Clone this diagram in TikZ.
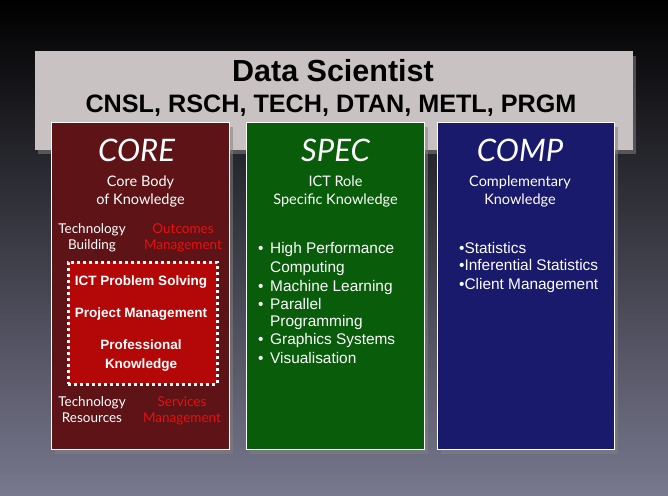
\documentclass[tikz,border=0pt]{standalone}
\usepackage{fontspec}
\setmainfont{Liberation Sans}
\newfontfamily\gill{Lato}
\usetikzlibrary{positioning, shadows}
\definecolor{bg bottom}{RGB}{120,120,142}
\definecolor{bg middle}{RGB}{40,40,56}
\definecolor{header grey}{RGB}{200,194,194}
\definecolor{core red}{RGB}{94,20,22}
\definecolor{spec green}{RGB}{8,92,10}
\definecolor{comp blue}{RGB}{26,26,108}
\definecolor{inner red}{RGB}{180,8,8}
\definecolor{mgmt red}{RGB}{232,16,16}
\tikzset{
  panel/.style={draw=white, line width=1pt, anchor=north west, inner sep=0pt,
    drop shadow={opacity=0.55, shadow xshift=3pt, shadow yshift=-4pt}},
  big title/.style={anchor=base, text=white, font=\gill\itshape\fontsize{31}{32}\selectfont},
  sub title/.style={anchor=base, text=white, font=\gill\fontsize{14.5}{18}\selectfont},
  corner text/.style={anchor=base, font=\gill\fontsize{13.5}{15.5}\selectfont},
  inner text/.style={anchor=base, text=white, font=\bfseries\fontsize{13.5}{19}\selectfont},
  item text/.style={anchor=base west, text=white, inner sep=0pt, font=\fontsize{15.4}{18}\selectfont},
}
\begin{document}
\begin{tikzpicture}[x=1pt, y=-1pt]
  \useasboundingbox (0,0) rectangle (668,495);
  % background
  \shade[top color=black, middle color=bg middle, bottom color=bg bottom] (0,0) rectangle (668,495);
  % header
  \path node[panel, draw=none, fill=header grey, minimum width=598pt, minimum height=98pt] (header) at (34,51) {};
  \path (333,81) node[anchor=base, font=\bfseries\fontsize{30.5}{31}\selectfont] (role) {Data Scientist};
  \path (331,112) node[anchor=base, font=\bfseries\fontsize{25.2}{26}\selectfont] (codes) {CNSL, RSCH, TECH, DTAN, METL, PRGM};
  % three columns
  \path node[panel, fill=core red, minimum width=178pt, minimum height=327pt] (core) at (51,122) {};
  \path node[panel, fill=spec green, minimum width=178pt, minimum height=327pt] (spec) at (246,122) {};
  \path node[panel, fill=comp blue, minimum width=177pt, minimum height=327pt] (comp) at (437,122) {};
  % CORE
  \path (core.north) ++(-4,39) node[big title] (core title) {CORE};
  \path (core.north) ++(0,64) node[sub title] (core sub 1) {Core Body};
  \path (core.north) ++(0,82) node[sub title] (core sub 2) {of Knowledge};
  \path (92,233) node[corner text, text=white] (tb 1) {Technology};
  \path (92,249) node[corner text, text=white] (tb 2) {Building};
  \path (183,233) node[corner text, text=mgmt red] (om 1) {Outcomes};
  \path (183,249) node[corner text, text=mgmt red] (om 2) {Management};
  \path node[anchor=north west, fill=inner red, draw=white, line width=2.6pt, dash pattern=on 3pt off 3pt,
    minimum width=149pt, minimum height=122pt] (inner box) at (67,261) {};
  \path (141,285) node[inner text] (ict) {ICT Problem Solving};
  \path (141,317) node[inner text] (pm) {Project Management};
  \path (141,349) node[inner text] (pk 1) {Professional};
  \path (141,368) node[inner text] (pk 2) {Knowledge};
  \path (92,406) node[corner text, text=white] (tr 1) {Technology};
  \path (92,422) node[corner text, text=white] (tr 2) {Resources};
  \path (182,406) node[corner text, text=mgmt red] (sm 1) {Services};
  \path (182,422) node[corner text, text=mgmt red] (sm 2) {Management};
  % SPEC
  \path (spec.north) ++(0,39) node[big title] (spec title) {SPEC};
  \path (spec.north) ++(0,64) node[sub title] (spec sub 1) {ICT Role};
  \path (spec.north) ++(0,82) node[sub title] (spec sub 2) {Specific Knowledge};
  \foreach \y/\txt in {253/High Performance, 291/Machine Learning, 309/Parallel, 344/Graphics Systems, 363/Visualisation}
    \path (258,\y) node[item text] (spec dot \y) {\textbullet}
          (270,\y) node[item text] (spec item \y) {\txt};
  \path (270,272) node[item text] (spec item 272) {Computing};
  \path (270,326) node[item text] (spec item 326) {Programming};
  % COMP
  \path (comp.north) ++(-6,39) node[big title] (comp title) {COMP};
  \path (comp.north) ++(-6,64) node[sub title] (comp sub 1) {Complementary};
  \path (comp.north) ++(-6,82) node[sub title] (comp sub 2) {Knowledge};
  \foreach \y/\txt in {253/Statistics, 270/Inferential Statistics, 289/Client Management}
    \path (459,\y) node[item text] (comp item \y) {\textbullet\txt};
\end{tikzpicture}
\end{document}
